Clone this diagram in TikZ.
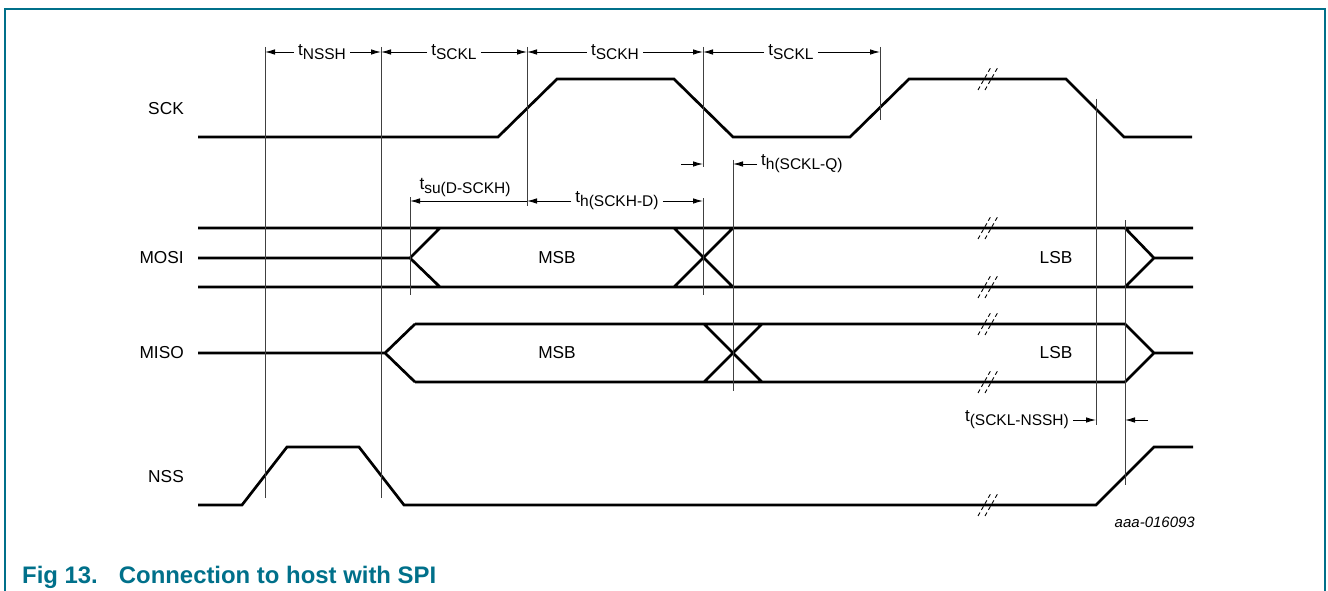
\documentclass[tikz,border=0pt]{standalone}
\usepackage{fontspec}
\setmainfont{Liberation Sans}
\usetikzlibrary{arrows.meta}
\definecolor{nxpteal}{RGB}{0,112,138}
\newcommand{\tsub}[2]{#1\raisebox{-4pt}{\fontsize{15.5}{16}\selectfont #2}}
\tikzset{
  sig/.style={line width=2.7pt},
  vline/.style={line width=0.9pt, black!75},
  dimarr/.style={-{Latex[length=10pt,width=5.5pt]}, line width=0.9pt},
  lbl/.style={font=\fontsize{17.3}{20}\selectfont, inner sep=0pt},
  dimlbl/.style={font=\fontsize{17}{20}\selectfont, inner sep=4pt},
  cutmk/.style={line width=0.9pt, dash pattern=on 4pt off 3pt}
}
\begin{document}
\begin{tikzpicture}[x=1pt,y=-1pt]
            \useasboundingbox (0,0) rectangle (1328,591);
            \newcommand{\sckH}{79}
            \newcommand{\sckL}{137}
            \newcommand{\nssH}{447}
            \newcommand{\nssL}{505}
            % frame
            \draw[nxpteal, line width=1.5pt] (5,591) -- (5,9) -- (1325,9) -- (1325,591);
            % signal names
            \node[lbl, anchor=east] (sck) at (184,109) {SCK};
            \node[lbl, anchor=east] (mosi) at (184,258) {MOSI};
            \node[lbl, anchor=east] (miso) at (184,353) {MISO};
            \node[lbl, anchor=east] (nss) at (184,477) {NSS};
            % waveforms
            \draw[sig] (198,\sckL) -- (498,\sckL) -- (557,\sckH) -- (674,\sckH) -- (733,\sckL) -- (850,\sckL)
            -- (909,\sckH) -- (1066,\sckH) -- (1124,\sckL) -- (1192,\sckL);
            \draw[sig] (198,228) -- (1193,228) (198,287) -- (1193,287)
            (198,258) -- (410,258) (440,228) -- (410,258) -- (440,287)
            (674,228) -- (733,287) (674,287) -- (733,228)
            (1125,228) -- (1154,258) -- (1125,287) (1154,258) -- (1193,258);
            \draw[sig] (198,353) -- (385,353) (415,324) -- (385,353) -- (415,382)
            (415,324) -- (1125,324) -- (1154,353) -- (1125,382) -- (415,382)
            (704,324) -- (762,382) (704,382) -- (762,324) (1154,353) -- (1193,353);
            \draw[sig] (198,\nssL) -- (242,\nssL) -- (287,\nssH) -- (359,\nssH) -- (404,\nssL) -- (1096,\nssL)
            -- (1154,\nssH) -- (1193,\nssH);
            \node[lbl] (msbo) at (557,258) {MSB};
            \node[lbl] (msbi) at (557,353) {MSB};
            \node[lbl] (lsbo) at (1056,258) {LSB};
            \node[lbl] (lsbi) at (1056,353) {LSB};
            % breaks
            \foreach \y in {\sckH,228,287,324,382,\nssL}
              \draw[cutmk] (978,\y+11) -- (991,\y-12) (985,\y+11) -- (998,\y-12);
            % timing references
            \coordinate (xa) at (265,47);
            \coordinate (xb) at (381,47);
            \coordinate (xc) at (527,47);
            \coordinate (xd) at (703,47);
            \coordinate (xf) at (880,47);
            \draw[vline] (xa) -- (265,498) (xb) -- (381,498) (xc) -- (527,206) (xd) -- (703,167)
            (703,198) -- (703,295) (733,160) -- (733,391) (xf) -- (880,120)
            (1096,99) -- (1096,425) (1125,220) -- (1125,485) (410,197) -- (410,295);
            \node[dimlbl] (nssh) at (322,52) {\tsub{t}{NSSH}};
            \node[dimlbl] (sckla) at (454,52) {\tsub{t}{SCKL}};
            \node[dimlbl] (sckh) at (615,52) {\tsub{t}{SCKH}};
            \node[dimlbl] (scklb) at (791,52) {\tsub{t}{SCKL}};
            \draw[dimarr] (nssh) -- (nssh -| xa);
            \draw[dimarr] (nssh) -- (nssh -| xb);
            \draw[dimarr] (sckla) -- (sckla -| xb);
            \draw[dimarr] (sckla) -- (sckla -| xc);
            \draw[dimarr] (sckh) -- (sckh -| xc);
            \draw[dimarr] (sckh) -- (sckh -| xd);
            \draw[dimarr] (scklb) -- (scklb -| xd);
            \draw[dimarr] (scklb) -- (scklb -| xf);
            % hold / setup
            \coordinate (hqa) at (681,164);
            \coordinate (hqb) at (703,164);
            \coordinate (hqc) at (733,164);
            \node[dimlbl, anchor=west] (hq) at (757,164) {\tsub{t}{h(SCKL-Q)}};
            \draw[dimarr] (hqa) -- (hqb);
            \draw[dimarr] (hq) -- (hqc);
            \coordinate (sua) at (410,201);
            \coordinate (sub) at (527,201);
            \coordinate (hde) at (703,201);
            \node[lbl] (su) at (465,188) {\tsub{t}{su(D-SCKH)}};
            \draw[dimarr, {Latex[length=10pt,width=5.5pt]}-] (sua) -- (sub);
            \node[dimlbl] (hd) at (617,201) {\tsub{t}{h(SCKH-D)}};
            \draw[dimarr] (hd) -- (sub);
            \draw[dimarr] (hd) -- (hde);
            \coordinate (kna) at (1096,420);
            \coordinate (knb) at (1148,420);
            \coordinate (knc) at (1125,420);
            \node[dimlbl, anchor=east] (kn) at (1073,420) {\tsub{t}{(SCKL-NSSH)}};
            \draw[dimarr] (kn) -- (kna);
            \draw[dimarr] (knb) -- (knc);
            % caption
            \node[anchor=east, font=\itshape\fontsize{15}{16}\selectfont, inner sep=0pt] (fid) at (1195,522) {aaa-016093};
            \node[anchor=base west, font=\bfseries\fontsize{23.9}{26}\selectfont, text=nxpteal, inner sep=0pt] (cap)
            at (22,583) {Fig 13.\hspace{21pt}Connection to host with SPI};
\end{tikzpicture}
\end{document}
